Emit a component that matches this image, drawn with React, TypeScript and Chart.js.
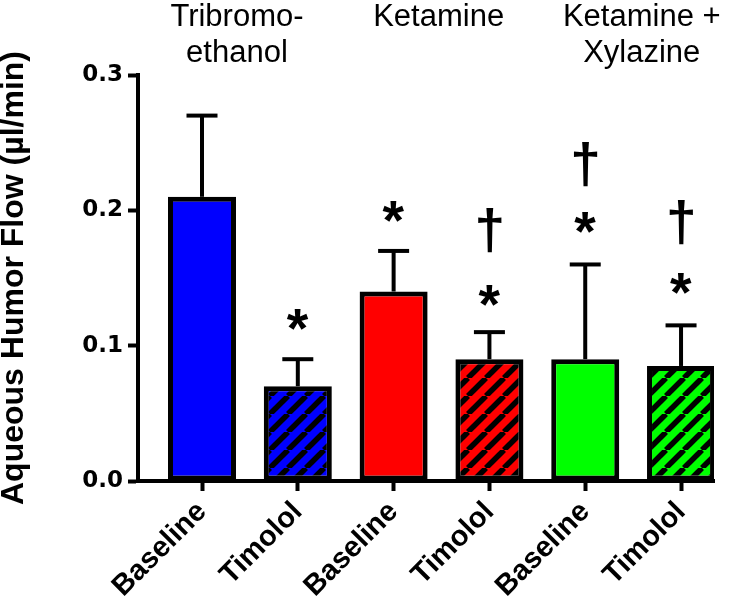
import React, { useEffect, useRef } from 'react';
import { Chart, registerables } from 'chart.js';

Chart.register(...registerables);

// ---- data ----
const categories = ['Baseline', 'Timolol', 'Baseline', 'Timolol', 'Baseline', 'Timolol'];
const flowMeans = [0.21, 0.07, 0.14, 0.09, 0.09, 0.085];
const flowSD = [0.06, 0.02, 0.03, 0.02, 0.07, 0.03];
const barColors = ['#0000ff', '#0000ff', '#ff0000', '#ff0000', '#00ff00', '#00ff00'];
const hatched = [false, true, false, true, false, true];
const groupLabels = [['Tribromo-', 'ethanol'], ['Ketamine'], ['Ketamine +', 'Xylazine']];
const asteriskY = [null, 0.119, 0.199, 0.137, 0.191, 0.146];
const daggerY = [null, null, null, 0.185, 0.234, 0.191];
const yTicks = [0, 0.1, 0.2, 0.3];
const yTitle = 'Aqueous Humor Flow (\u00B5l/min)';

// group label x positions (in x-scale units)
const groupLabelX = [0.365, 2.47, 4.59];

function drawCenteredGlyph(ctx: CanvasRenderingContext2D, text: string, weight: string, family: string, targetH: number, cx: number, cy: number) {
  ctx.font = `${weight} 100px ${family}`;
  const m0 = ctx.measureText(text);
  const h0 = m0.actualBoundingBoxAscent + m0.actualBoundingBoxDescent;
  const size = (targetH / h0) * 100;
  ctx.font = `${weight} ${size.toFixed(2)}px ${family}`;
  const m = ctx.measureText(text);
  ctx.textAlign = 'left';
  ctx.textBaseline = 'alphabetic';
  const x = cx - (m.actualBoundingBoxRight - m.actualBoundingBoxLeft) / 2;
  const y = cy + (m.actualBoundingBoxAscent - m.actualBoundingBoxDescent) / 2;
  ctx.fillText(text, x, y);
}

const overlayPlugin = {
  id: 'overlay',
  afterDatasetsDraw(chart: any) {
    const { ctx } = chart;
    const x = chart.scales.x;
    const y = chart.scales.y;
    ctx.save();
    // error bars (upper only)
    ctx.strokeStyle = '#000';
    ctx.lineWidth = 4;
    ctx.lineCap = 'butt';
    flowMeans.forEach((m, i) => {
      const px = x.getPixelForValue(i);
      const base = y.getPixelForValue(m);
      const top = y.getPixelForValue(m + flowSD[i]);
      ctx.beginPath();
      ctx.moveTo(px, base);
      ctx.lineTo(px, top);
      ctx.stroke();
      ctx.beginPath();
      ctx.moveTo(px - 15.5, top);
      ctx.lineTo(px + 15.5, top);
      ctx.stroke();
    });
    // significance marks
    ctx.fillStyle = '#000';
    asteriskY.forEach((v, i) => {
      if (v == null) return;
      drawCenteredGlyph(ctx, '*', 'bold', '"Liberation Sans"', 21, x.getPixelForValue(i), y.getPixelForValue(v));
    });
    daggerY.forEach((v, i) => {
      if (v == null) return;
      drawCenteredGlyph(ctx, '\u2020', 'bold', '"Liberation Sans"', 44, x.getPixelForValue(i), y.getPixelForValue(v));
    });
    // group labels
    ctx.font = '31px "Liberation Sans"';
    ctx.textAlign = 'center';
    ctx.textBaseline = 'alphabetic';
    groupLabels.forEach((lines, g) => {
      const gx = x.getPixelForValue(groupLabelX[g]);
      lines.forEach((t, k) => {
        ctx.fillText(t, gx, 26 + k * 36);
      });
    });
    ctx.restore();
  },
};

function makeHatch(ctx: CanvasRenderingContext2D, color: string) {
  const p = 18;
  const c = document.createElement('canvas');
  c.width = p;
  c.height = p;
  const g = c.getContext('2d')!;
  g.fillStyle = color;
  g.fillRect(0, 0, p, p);
  g.strokeStyle = '#000';
  g.lineWidth = 5.5;
  for (const k of [-p, 0, p]) {
    g.beginPath();
    g.moveTo(k, p);
    g.lineTo(k + p, 0);
    g.stroke();
  }
  return ctx.createPattern(c, 'repeat');
}

export default function App() {
  const canvasRef = useRef<HTMLCanvasElement>(null);

  useEffect(() => {
    const canvas = canvasRef.current!;
    const ctx = canvas.getContext('2d')!;
    const fills = barColors.map((c, i) => (hatched[i] ? makeHatch(ctx, c) : c));

    const axisGrid = {
      drawOnChartArea: false,
      drawTicks: true,
      tickLength: 10,
      tickWidth: 4,
      tickColor: '#000',
      offset: false,
    };

    const chart = new Chart(canvas, {
      type: 'bar',
      data: {
        datasets: [
          {
            data: flowMeans.map((v, i) => ({ x: i, y: v })),
            backgroundColor: fills as any,
            borderColor: '#000',
            borderWidth: 5,
            borderSkipped: false,
            barPercentage: 0.71,
            categoryPercentage: 1,
          },
        ],
      },
      options: {
        animation: false,
        responsive: false,
        layout: { padding: { top: 75, right: 33, left: 0, bottom: 0 } },
        plugins: { legend: { display: false }, tooltip: { enabled: false } },
        scales: {
          x: {
            type: 'linear',
            offset: false,
            min: -0.668,
            max: 5.344,
            afterBuildTicks: (s: any) => {
              s.ticks = categories.map((_, i) => ({ value: i }));
            },
            afterFit: (s: any) => {
              s.height = 124;
            },
            ticks: {
              callback: (v: any) => categories[Math.round(v)],
              minRotation: 45,
              maxRotation: 45,
              autoSkip: false,
              padding: 4,
              color: '#000',
              font: { family: '"Liberation Sans"', weight: 'bold', size: 29 },
            },
            grid: axisGrid,
            border: { display: true, color: '#000', width: 4 },
          },
          y: {
            type: 'linear',
            min: 0,
            max: 0.3,
            afterBuildTicks: (s: any) => {
              s.ticks = yTicks.map((v) => ({ value: v }));
            },
            afterFit: (s: any) => {
              s.width = 138;
            },
            ticks: {
              callback: (v: any) => Number(v).toFixed(1),
              padding: 5,
              color: '#000',
              font: { family: '"DejaVu Sans"', weight: 'bold', size: 23 },
            },
            grid: axisGrid,
            border: { display: true, color: '#000', width: 4 },
            title: {
              display: true,
              text: yTitle,
              color: '#000',
              padding: { top: 0, bottom: 0 },
              font: { family: '"Liberation Sans"', weight: 'bold', size: 32, lineHeight: 0.875 },
            },
          },
        },
      } as any,
      plugins: [overlayPlugin],
    });
    return () => chart.destroy();
  }, []);

  return (
    <div style={{ position: 'fixed', left: 0, top: 0, width: 747, height: 605, background: '#fff' }}>
      <canvas ref={canvasRef} width={747} height={605} style={{ width: 747, height: 605, display: 'block' }} />
    </div>
  );
}
